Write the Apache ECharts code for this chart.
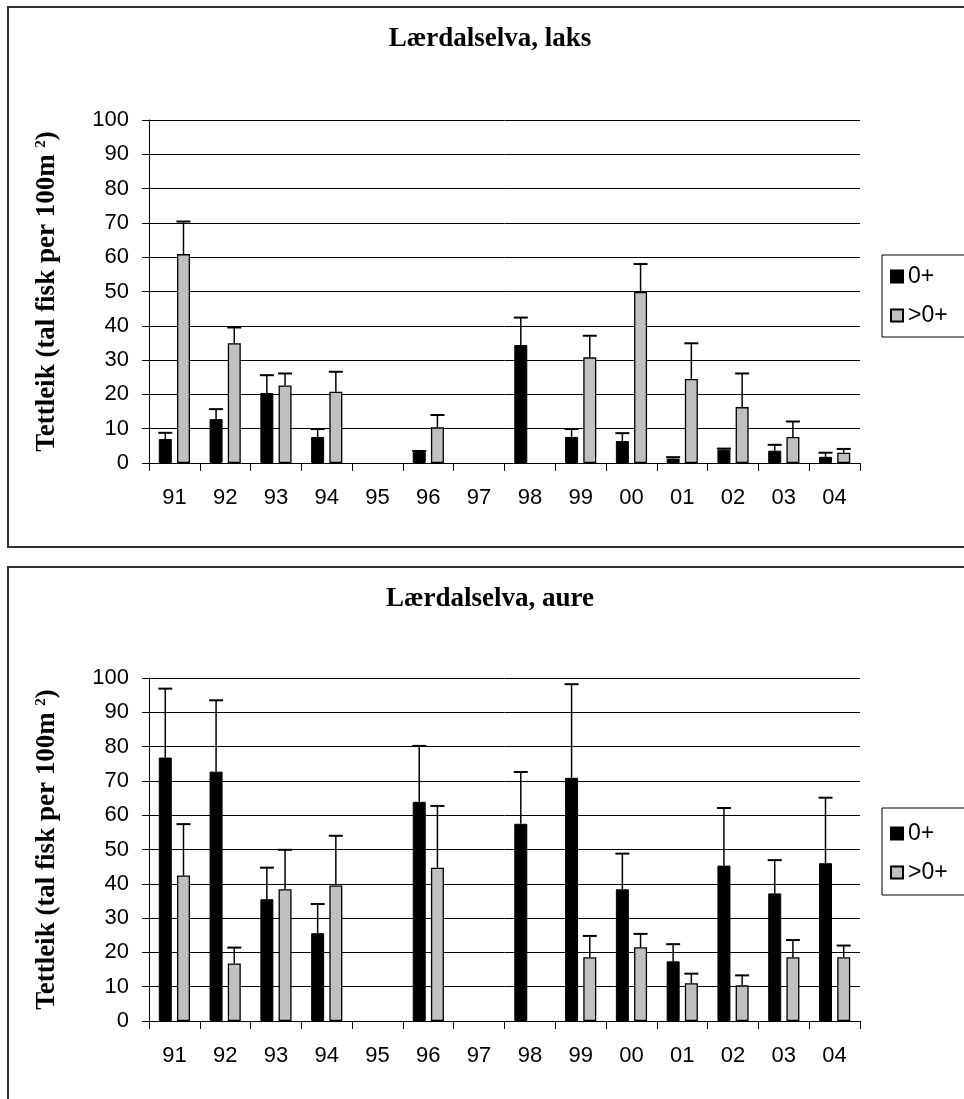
<!DOCTYPE html>
<html>
<head>
<meta charset="utf-8">
<script src="https://cdn.jsdelivr.net/npm/echarts@6/dist/echarts.min.js"></script>
<style>
html,body{margin:0;padding:0;background:#fff;}
#c{width:964px;height:1099px;}
</style>
</head>
<body>
<div id="c"></div>
<script>
const years = ['91','92','93','94','95','96','97','98','99','00','01','02','03','04'];
const yTicks = [0,10,20,30,40,50,60,70,80,90,100];
const titles = ['Lærdalselva, laks', 'Lærdalselva, aure'];
const seriesNames = ['0+', '>0+'];

// Lærdalselva, laks
const laks0 = [7.0, 12.8, 20.4, 7.6, null, 3.2, null, 34.4, 7.6, 6.4, 1.3, 3.9, 3.6, 1.8];
const laks0Err = [1.8, 2.9, 5.2, 2.3, null, 0.3, null, 8.0, 2.3, 2.3, 0.4, 0.3, 1.7, 1.2];
const laks1 = [60.9, 34.9, 22.6, 20.8, null, 10.4, null, null, 30.8, 49.9, 24.5, 16.3, 7.6, 3.0];
const laks1Err = [9.5, 4.6, 3.5, 5.8, null, 3.6, null, null, 6.3, 8.1, 10.4, 9.8, 4.5, 1.1];

// Lærdalselva, aure
const aure0 = [76.8, 72.7, 35.5, 25.6, null, 63.9, null, 57.5, 70.9, 38.4, 17.4, 45.3, 37.2, 46.0];
const aure0Err = [20.1, 20.8, 9.2, 8.5, null, 16.3, null, 15.1, 27.3, 10.4, 5.0, 16.8, 9.7, 19.1];
const aure1 = [42.4, 16.8, 38.4, 39.5, null, 44.7, null, null, 18.6, 21.5, 11.0, 10.4, 18.6, 18.6];
const aure1Err = [15.0, 4.6, 11.5, 14.5, null, 18.0, null, null, 6.2, 3.9, 2.8, 2.9, 5.0, 3.4];

const SANS = 'Liberation Sans, Arial, sans-serif';
const SERIF = 'Liberation Serif, Times New Roman, serif';
const BAR_W = 13;
const HALF_STEP = 9.1; // half distance between bar centres within a group

function errData(vals, errs) {
  const out = [];
  vals.forEach((v, i) => { if (v != null && errs[i] != null) out.push([i, v, v + errs[i]]); });
  return out;
}
function errRender(offset) {
  return function (params, api) {
    const i = api.value(0), v = api.value(1), hi = api.value(2);
    const p0 = api.coord([i, v]);
    const p1 = api.coord([i, hi]);
    const x = p0[0] + offset;
    return {
      type: 'group',
      children: [
        { type: 'line', shape: { x1: x, y1: p0[1], x2: x, y2: p1[1] }, style: { stroke: '#000', lineWidth: 1.5 } },
        { type: 'line', shape: { x1: x - 7, y1: p1[1], x2: x + 7, y2: p1[1] }, style: { stroke: '#000', lineWidth: 2 } }
      ]
    };
  };
}

const gridTops = [120, 678];
const legendTops = [265, 822];
const legendBoxes = [[882, 255, 110, 82], [882, 808, 110, 87]];

function yAxis(idx) {
  return {
    type: 'value', gridIndex: idx, min: yTicks[0], max: yTicks[yTicks.length - 1], interval: yTicks[1] - yTicks[0],
    axisLine: { show: true, lineStyle: { color: '#000', width: 1 } },
    axisTick: { show: true, inside: false, length: 7, lineStyle: { color: '#000' } },
    axisLabel: { color: '#000', fontFamily: SANS, fontSize: 22, margin: 20 },
    splitLine: { show: true, lineStyle: { color: '#000', width: 1 } },
    name: '{a|Tettleik (tal fisk per 100m }{s|2}{a|)}',
    nameLocation: 'middle', nameRotate: 90, nameGap: 88,
    nameTextStyle: {
      color: '#000', fontFamily: SERIF, fontWeight: 'bold', fontSize: 27,
      rich: {
        a: { fontFamily: SERIF, fontWeight: 'bold', fontSize: 27, color: '#000' },
        s: { fontFamily: SERIF, fontWeight: 'bold', fontSize: 15, color: '#000', verticalAlign: 'top' }
      }
    }
  };
}
function xAxis(idx) {
  return {
    type: 'category', gridIndex: idx, data: years, boundaryGap: true,
    axisLine: { show: true, lineStyle: { color: '#000', width: 1 } },
    axisTick: { show: true, interval: 0, length: 8, lineStyle: { color: '#000' } },
    axisLabel: { color: '#000', fontFamily: SANS, fontSize: 22, margin: 24, interval: 0 },
    splitLine: { show: false }
  };
}

const datasets = [[laks0, laks0Err, laks1, laks1Err], [aure0, aure0Err, aure1, aure1Err]];
const series = [];
datasets.forEach((d, g) => {
  series.push({
    name: seriesNames[0], type: 'bar', xAxisIndex: g, yAxisIndex: g, data: d[0],
    barWidth: BAR_W, barGap: '40%',
    itemStyle: { color: '#000', borderColor: '#000', borderWidth: 1 }
  });
  series.push({
    name: seriesNames[1], type: 'bar', xAxisIndex: g, yAxisIndex: g, data: d[2],
    barWidth: BAR_W, barGap: '40%',
    itemStyle: { color: '#C0C0C0', borderColor: '#000', borderWidth: 1.3 }
  });
  series.push({
    type: 'custom', xAxisIndex: g, yAxisIndex: g, data: errData(d[0], d[1]),
    renderItem: errRender(-HALF_STEP), encode: { x: 0, y: 1 }, z: 5, silent: true
  });
  series.push({
    type: 'custom', xAxisIndex: g, yAxisIndex: g, data: errData(d[2], d[3]),
    renderItem: errRender(HALF_STEP), encode: { x: 0, y: 1 }, z: 5, silent: true
  });
});

const chart = echarts.init(document.getElementById('c'), null, { renderer: 'canvas' });
chart.setOption({
  animation: false,
  backgroundColor: '#fff',
  title: titles.map((t, i) => ({
    text: t, left: 490, textAlign: 'center', top: [26, 586][i], padding: 0,
    textStyle: { fontFamily: SERIF, fontWeight: 'bold', fontSize: 27, color: '#000' }
  })),
  legend: [0, 1].map(i => ({
    orient: 'vertical', left: 890, top: legendTops[i], padding: 0,
    itemWidth: 12, itemHeight: 12, itemGap: 16, icon: 'rect',
    seriesIndex: [i * 4, i * 4 + 1],
    data: seriesNames,
    textStyle: { fontFamily: SANS, fontSize: 23, color: '#000' }
  })),
  grid: gridTops.map(t => ({ left: 149, top: t, width: 711, height: 343, containLabel: false })),
  xAxis: [xAxis(0), xAxis(1)],
  yAxis: [yAxis(0), yAxis(1)],
  graphic: [
    { type: 'rect', shape: { x: 8, y: 7, width: 980, height: 540 }, style: { fill: null, stroke: '#333', lineWidth: 2 }, z: -1 },
    { type: 'rect', shape: { x: 8, y: 567, width: 980, height: 560 }, style: { fill: null, stroke: '#333', lineWidth: 2 }, z: -1 },
    ...legendBoxes.map(b => ({ type: 'rect', shape: { x: b[0], y: b[1], width: b[2], height: b[3] }, style: { fill: '#fff', stroke: '#000', lineWidth: 1 }, z: -1 }))
  ],
  series: series
});
</script>
</body>
</html>
